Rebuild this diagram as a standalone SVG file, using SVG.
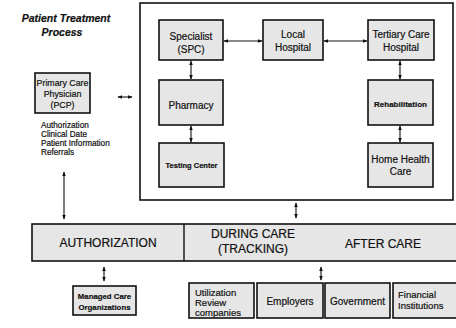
<svg xmlns="http://www.w3.org/2000/svg" width="456" height="328" viewBox="0 0 456 328">
<style>
.box{fill:#e6e6e6;stroke:#111;stroke-width:1.6}
.t{font-family:"Liberation Sans",Arial,sans-serif;fill:#111;text-anchor:middle;stroke:#111;stroke-width:0.2}
.tl{font-family:"Liberation Sans",Arial,sans-serif;fill:#111;stroke:#111;stroke-width:0.2}
.c{stroke:#111;stroke-width:1.1;fill:none;marker-start:url(#a);marker-end:url(#a)}
</style>
<defs>
<marker id="a" viewBox="0 0 8 8" refX="7" refY="4" markerWidth="5" markerHeight="5" orient="auto-start-reverse" markerUnits="userSpaceOnUse">
<path d="M0,1 L8,4 L0,7 Z" fill="#111"/>
</marker>
</defs>
<g id="title">
<text class="t" x="66" y="22" font-size="10.5" font-weight="bold" font-style="italic">Patient Treatment</text>
<text class="t" x="62" y="36" font-size="10.5" font-weight="bold" font-style="italic">Process</text>
</g>
<g id="frame"><rect x="140" y="3" width="313" height="197" fill="none" stroke="#111" stroke-width="1.6"/></g>
<g id="specialist"><rect class="box" x="159" y="20" width="64" height="40"/>
<text class="t" x="191" y="40" font-size="10">Specialist</text><text class="t" x="191" y="53" font-size="10">(SPC)</text></g>
<g id="local"><rect class="box" x="263" y="20" width="60" height="40"/>
<text class="t" x="293" y="38" font-size="10">Local</text><text class="t" x="293" y="51" font-size="10">Hospital</text></g>
<g id="tertiary"><rect class="box" x="368" y="20" width="66" height="40"/>
<text class="t" x="401" y="38" font-size="10">Tertiary Care</text><text class="t" x="401" y="51" font-size="10">Hospital</text></g>
<g id="pharmacy"><rect class="box" x="159" y="80" width="64" height="45"/>
<text class="t" x="191" y="109" font-size="10">Pharmacy</text></g>
<g id="testing"><rect class="box" x="159" y="143" width="65" height="44"/>
<text class="t" x="191.5" y="168" font-size="7.5" font-weight="bold">Testing Center</text></g>
<g id="rehab"><rect class="box" x="368" y="80" width="65" height="45"/>
<text class="t" x="400.5" y="107" font-size="8" font-weight="bold">Rehabilitation</text></g>
<g id="homehealth"><rect class="box" x="368" y="143" width="65" height="44"/>
<text class="t" x="400.5" y="163" font-size="10">Home Health</text><text class="t" x="400.5" y="175" font-size="10">Care</text></g>
<g id="pcp"><rect class="box" x="35" y="73" width="55" height="40"/>
<text class="t" x="62.5" y="86" font-size="8.8">Primary Care</text><text class="t" x="62.5" y="97" font-size="8.8">Physician</text><text class="t" x="62.5" y="108" font-size="8.8">(PCP)</text></g>
<g id="pcp-notes">
<text class="tl" x="41" y="128" font-size="8.2">Authorization</text>
<text class="tl" x="41" y="137" font-size="8.2">Clinical Date</text>
<text class="tl" x="41" y="146" font-size="8.2">Patient Information</text>
<text class="tl" x="41" y="155" font-size="8.2">Referrals</text>
</g>
<g id="band">
<rect class="box" x="32" y="224" width="426" height="37"/>
<line x1="184" y1="224" x2="184" y2="261" stroke="#111" stroke-width="1.4"/>
<text class="t" x="108" y="247" font-size="12">AUTHORIZATION</text>
<text class="t" x="253" y="238" font-size="12">DURING CARE</text>
<text class="t" x="253" y="253" font-size="12">(TRACKING)</text>
<text class="t" x="383" y="248" font-size="12">AFTER CARE</text>
</g>
<g id="managed"><rect class="box" x="73" y="286" width="63" height="29"/>
<text class="t" x="104.5" y="299" font-size="7.8" font-weight="bold">Managed Care</text><text class="t" x="104.5" y="310" font-size="7.8" font-weight="bold">Organizations</text></g>
<g id="utilization"><rect class="box" x="189" y="283" width="65" height="35"/>
<text class="tl" x="195" y="296" font-size="9.5">Utilization</text><text class="tl" x="195" y="306" font-size="9.5">Review</text><text class="tl" x="195" y="316" font-size="9.5">companies</text></g>
<g id="employers"><rect class="box" x="257" y="283" width="66" height="35"/>
<text class="t" x="290" y="305" font-size="10">Employers</text></g>
<g id="government"><rect class="box" x="325" y="283" width="65" height="35"/>
<text class="t" x="357.5" y="305" font-size="10">Government</text></g>
<g id="financial"><rect class="box" x="393" y="283" width="64" height="35"/>
<text class="tl" x="398" y="298" font-size="9.5">Financial</text><text class="tl" x="398" y="309" font-size="9.5">Institutions</text></g>
<g id="connectors">
<line class="c" x1="224" y1="41" x2="262" y2="41"/>
<line class="c" x1="324" y1="41" x2="367" y2="41"/>
<line class="c" x1="191" y1="61" x2="191" y2="79"/>
<line class="c" x1="191" y1="126" x2="191" y2="142"/>
<line class="c" x1="400" y1="61" x2="400" y2="79"/>
<line class="c" x1="400" y1="126" x2="400" y2="142"/>
<line class="c" x1="118" y1="97" x2="132" y2="97"/>
<line class="c" x1="64" y1="172" x2="64" y2="219"/>
<line class="c" x1="296" y1="203" x2="296" y2="218"/>
<line class="c" x1="104" y1="267" x2="104" y2="281"/>
<line class="c" x1="321" y1="267" x2="321" y2="280"/>
</g>
</svg>
